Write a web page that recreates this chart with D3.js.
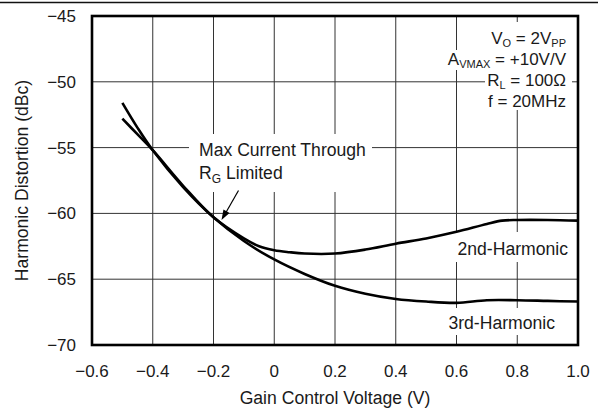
<!DOCTYPE html>
<html>
<head>
<meta charset="utf-8">
<script src="https://cdn.jsdelivr.net/npm/d3@7"></script>
<style>
  html, body { margin: 0; padding: 0; background: #fff; }
  svg text { font-family: "Liberation Sans", Arial, Helvetica, sans-serif; fill: #1a1a1a; }
</style>
</head>
<body>
<svg id="chart" width="598" height="411"></svg>
<script>
// ---- data ----
const xTicks = [-0.6, -0.4, -0.2, 0, 0.2, 0.4, 0.6, 0.8, 1.0];
const yTicks = [-45, -50, -55, -60, -65, -70];
const xTickLabels = ["−0.6", "−0.4", "−0.2", "0", "0.2", "0.4", "0.6", "0.8", "1.0"];
const yTickLabels = ["−45", "−50", "−55", "−60", "−65", "−70"];

const secondX = [-0.5, -0.45, -0.4, -0.3, -0.2, -0.1, -0.05, 0, 0.05, 0.1, 0.2, 0.3, 0.4, 0.5, 0.6, 0.7, 0.75, 0.8, 0.9, 1.0];
const secondY = [-52.8, -54.0, -55.2, -57.9, -60.3, -61.9, -62.5, -62.8, -62.95, -63.05, -63.05, -62.75, -62.3, -61.9, -61.4, -60.8, -60.55, -60.5, -60.5, -60.55];

const thirdX = [-0.5, -0.45, -0.4, -0.3, -0.2, -0.1, 0, 0.1, 0.2, 0.3, 0.4, 0.5, 0.6, 0.7, 0.8, 0.9, 1.0];
const thirdY = [-51.6, -53.5, -55.2, -58.0, -60.3, -62.1, -63.5, -64.6, -65.5, -66.1, -66.5, -66.7, -66.8, -66.6, -66.6, -66.65, -66.7];

const condLines = [
  {main: "V", sub: "O", rest: " = 2V", sub2: "PP"},
  {main: "A", sub: "VMAX", rest: " = +10V/V", sub2: ""},
  {main: "R", sub: "L", rest: " = 100Ω", sub2: ""},
  {main: "f = 20MHz", sub: "", rest: "", sub2: ""}
];

// ---- layout ----
const W = 598, H = 411;
const m = {left: 92, right: 20, top: 16, bottom: 66};
const svg = d3.select("#chart");

const x = d3.scaleLinear().domain([-0.6, 1.0]).range([m.left, W - m.right]);
const y = d3.scaleLinear().domain([-70, -45]).range([H - m.bottom, m.top]);

// top rule
svg.append("line").attr("x1", 0).attr("x2", W).attr("y1", 2.5).attr("y2", 2.5)
  .attr("stroke", "#111").attr("stroke-width", 1.5);

// grid
const grid = svg.append("g");
grid.selectAll("line.vx").data(xTicks.slice(1, -1)).join("line")
  .attr("x1", d => x(d)).attr("x2", d => x(d))
  .attr("y1", y(-45)).attr("y2", y(-70))
  .attr("stroke", "#333").attr("stroke-width", 1);
grid.selectAll("line.hy").data(yTicks.slice(1, -1)).join("line")
  .attr("x1", x(-0.6)).attr("x2", x(1.0))
  .attr("y1", d => y(d)).attr("y2", d => y(d))
  .attr("stroke", "#333").attr("stroke-width", 1);

// white boxes behind annotations
function whiteRect(x0, y0, x1, y1) {
  svg.append("rect").attr("x", x0).attr("y", y0).attr("width", x1 - x0).attr("height", y1 - y0).attr("fill", "#fff");
}
whiteRect(189, 134, 372, 192);
whiteRect(456, 232, 572, 262);
whiteRect(440, 308, 572, 335);
whiteRect(480, 22, 572, 50);
whiteRect(430, 50, 572, 70);
whiteRect(485, 70, 572, 90);
whiteRect(488, 90, 572, 110);

// curves
const line = d3.line().x(d => x(d[0])).y(d => y(d[1])).curve(d3.curveCatmullRom.alpha(0.5));
const s2 = secondX.map((v, i) => [v, secondY[i]]);
const s3 = thirdX.map((v, i) => [v, thirdY[i]]);
svg.append("path").datum(s2).attr("d", line).attr("fill", "none").attr("stroke", "#000").attr("stroke-width", 2.6);
svg.append("path").datum(s3).attr("d", line).attr("fill", "none").attr("stroke", "#000").attr("stroke-width", 2.6);

// frame
svg.append("rect").attr("x", x(-0.6)).attr("y", y(-45))
  .attr("width", x(1.0) - x(-0.6)).attr("height", y(-70) - y(-45))
  .attr("fill", "none").attr("stroke", "#000").attr("stroke-width", 2.6);

// axes labels
const fs = 17, fl = 17.6;
svg.append("g").selectAll("text").data(xTicks).join("text")
  .attr("x", d => x(d)).attr("y", 377)
  .attr("text-anchor", "middle").attr("font-size", fs)
  .text((d, i) => xTickLabels[i]);
svg.append("g").selectAll("text").data(yTicks).join("text")
  .attr("x", 76).attr("y", d => y(d) + 6)
  .attr("text-anchor", "end").attr("font-size", fs)
  .text((d, i) => yTickLabels[i]);

svg.append("text").attr("x", (x(-0.6) + x(1.0)) / 2).attr("y", 404)
  .attr("text-anchor", "middle").attr("font-size", fl)
  .text("Gain Control Voltage (V)");
svg.append("text")
  .attr("transform", `translate(28,${(y(-45) + y(-70)) / 2}) rotate(-90)`)
  .attr("text-anchor", "middle").attr("font-size", fl)
  .text("Harmonic Distortion (dBc)");

// conditions text
const condY = [44, 65, 86, 107];
const cfs = 17;
condLines.forEach((c, i) => {
  const t = svg.append("text").attr("x", 566).attr("y", condY[i])
    .attr("text-anchor", "end").attr("font-size", cfs);
  t.append("tspan").text(c.main);
  if (c.sub) t.append("tspan").attr("font-size", 11).attr("dy", 3).text(c.sub);
  if (c.rest) t.append("tspan").attr("dy", c.sub ? -3 : 0).text(c.rest);
  if (c.sub2) t.append("tspan").attr("font-size", 11).attr("dy", 3).text(c.sub2);
});

// annotation
svg.append("text").attr("x", 199).attr("y", 156).attr("font-size", fl).text("Max Current Through");
const rg = svg.append("text").attr("x", 199).attr("y", 179).attr("font-size", fl);
rg.append("tspan").text("R");
rg.append("tspan").attr("font-size", 12).attr("dy", 4).text("G");
rg.append("tspan").attr("dy", -4).text(" Limited");

// arrow
const ax0 = 238.5, ay0 = 190.5, ax1 = 221.5, ay1 = 220;
svg.append("line").attr("x1", ax0).attr("y1", ay0).attr("x2", ax1 + 3).attr("y2", ay1 - 5)
  .attr("stroke", "#000").attr("stroke-width", 1.2);
const ang = Math.atan2(ay1 - ay0, ax1 - ax0);
const hl = 10, hw = 3.5;
const bx = ax1 - hl * Math.cos(ang), by = ay1 - hl * Math.sin(ang);
svg.append("path")
  .attr("d", `M${ax1},${ay1} L${bx + hw * Math.sin(ang)},${by - hw * Math.cos(ang)} L${bx - hw * Math.sin(ang)},${by + hw * Math.cos(ang)} Z`)
  .attr("fill", "#000");

// series labels
svg.append("text").attr("x", 568).attr("y", 255).attr("text-anchor", "end").attr("font-size", fl).text("2nd-Harmonic");
svg.append("text").attr("x", 555).attr("y", 329).attr("text-anchor", "end").attr("font-size", fl).text("3rd-Harmonic");
</script>
</body>
</html>
